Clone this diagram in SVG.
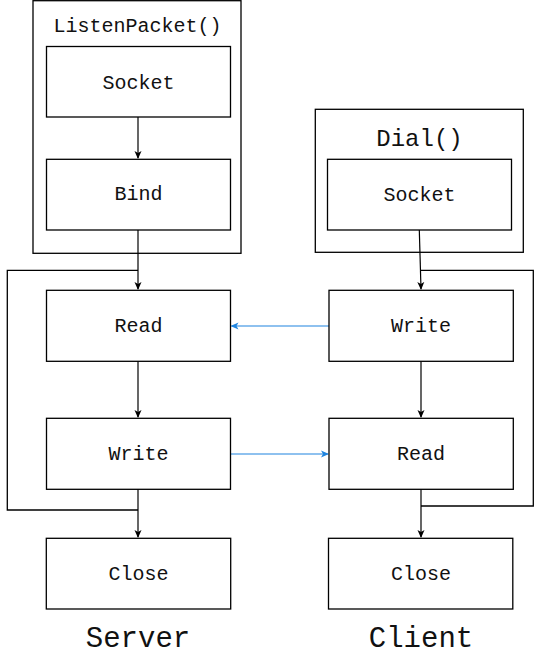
<svg xmlns="http://www.w3.org/2000/svg" width="543" height="657" viewBox="0 0 543 657">
<defs>
<style>
.box{fill:#fff;stroke:#000;stroke-width:1.3}
.grp{fill:none;stroke:#000;stroke-width:1.3}
.t{font-family:"Liberation Mono","Courier New",monospace;font-size:20px;text-anchor:middle;fill:#111}
.big{font-size:29px}
.mid{font-size:24px}
.c{fill:none;stroke:#000;stroke-width:1.2}
.b{fill:none;stroke:#1f84df;stroke-width:1.2}
</style>
<marker id="ah" markerWidth="8" markerHeight="8" refX="7" refY="4" orient="auto" markerUnits="userSpaceOnUse">
<path d="M0,0.5 L8,4 L0,7.5 L2,4 Z" fill="#000"/>
</marker>
<marker id="ahb" markerWidth="8" markerHeight="8" refX="7" refY="4" orient="auto" markerUnits="userSpaceOnUse">
<path d="M0,0.5 L8,4 L0,7.5 L2,4 Z" fill="#1f84df"/>
</marker>
</defs>
<rect width="543" height="657" fill="#fff"/>

<g id="listenpacket">
<rect class="grp" x="33" y="0.7" width="208" height="252.6"/>
<text class="t" x="137.5" y="32">ListenPacket()</text>
</g>
<g id="dial">
<rect class="grp" x="315.3" y="109.3" width="208" height="143"/>
<text class="t mid" x="419.5" y="146">Dial()</text>
</g>

<g id="connectors">
<path class="c" d="M138,117 V158" marker-end="url(#ah)"/>
<path class="c" d="M138,230 V289" marker-end="url(#ah)"/>
<path class="c" d="M138,361 V417" marker-end="url(#ah)"/>
<path class="c" d="M138,489 V537" marker-end="url(#ah)"/>
<path class="grp" d="M138,270.3 H7.3 V510 H138"/>
<path class="c" d="M419.3,230 L421,289" marker-end="url(#ah)"/>
<path class="c" d="M421,361 V417" marker-end="url(#ah)"/>
<path class="c" d="M421,489 V537" marker-end="url(#ah)"/>
<path class="grp" d="M421,270.3 H533.3 V506 H421"/>
<path class="b" d="M329,326 H231.5" marker-end="url(#ahb)"/>
<path class="b" d="M230.5,454 H328" marker-end="url(#ahb)"/>
</g>

<g id="s-socket"><rect class="box" x="46.5" y="46.5" width="184" height="70.5"/><text class="t" x="138.5" y="89">Socket</text></g>
<g id="s-bind"><rect class="box" x="46.5" y="159.3" width="184" height="70.7"/><text class="t" x="138.5" y="200">Bind</text></g>
<g id="s-read"><rect class="box" x="46.5" y="290.3" width="184" height="71"/><text class="t" x="138.5" y="332">Read</text></g>
<g id="s-write"><rect class="box" x="46.5" y="418.3" width="184" height="71"/><text class="t" x="138.5" y="460">Write</text></g>
<g id="s-close"><rect class="box" x="46.3" y="538.3" width="184.4" height="70.7"/><text class="t" x="138.5" y="580">Close</text></g>

<g id="c-socket"><rect class="box" x="327.5" y="159.3" width="184" height="70.7"/><text class="t" x="419.5" y="201">Socket</text></g>
<g id="c-write"><rect class="box" x="329" y="290.3" width="184.3" height="71"/><text class="t" x="421" y="332">Write</text></g>
<g id="c-read"><rect class="box" x="329" y="418.3" width="184.3" height="71"/><text class="t" x="421" y="460">Read</text></g>
<g id="c-close"><rect class="box" x="328.5" y="538.3" width="184.3" height="70.7"/><text class="t" x="421" y="580">Close</text></g>

<g id="labels">
<text class="t big" x="138" y="647">Server</text>
<text class="t big" x="421" y="647">Client</text>
</g>
</svg>
